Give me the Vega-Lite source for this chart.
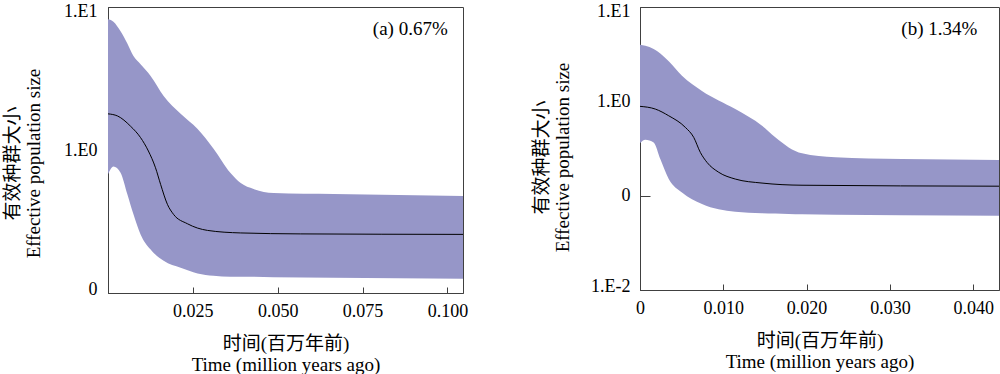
{
  "$schema": "https://vega.github.io/schema/vega-lite/v6.json",
  "padding": {"left": 3, "top": 1, "right": 0, "bottom": 0},
  "spacing": 63,
  "config": {
    "font": "Liberation Serif, Noto Sans CJK SC",
    "view": {"stroke": "#404040", "strokeWidth": 1},
    "axis": {
      "labelFont": "Liberation Serif, Noto Sans CJK SC",
      "titleFont": "Liberation Serif, Noto Sans CJK SC",
      "labelFontSize": 18,
      "titleFontSize": 19,
      "titleFontWeight": "normal",
      "labelColor": "#000000",
      "titleColor": "#000000",
      "domainColor": "#404040",
      "tickColor": "#404040",
      "grid": false,
      "labelFlush": false,
      "labelOverlap": false,
      "labelBound": false,
      "titleLineHeight": 21
    }
  },
  "datasets": {
    "bandA": [
      {"t": 0, "upper": 8.20, "lower": 0.676},
      {"t": 0.0016, "upper": 7.89, "lower": 0.767},
      {"t": 0.0037, "upper": 6.76, "lower": 0.693},
      {"t": 0.0057, "upper": 5.56, "lower": 0.490},
      {"t": 0.0075, "upper": 4.54, "lower": 0.355},
      {"t": 0.0096, "upper": 3.98, "lower": 0.257},
      {"t": 0.0125, "upper": 3.31, "lower": 0.202},
      {"t": 0.0164, "upper": 2.39, "lower": 0.168},
      {"t": 0.0214, "upper": 1.79, "lower": 0.150},
      {"t": 0.0264, "upper": 1.40, "lower": 0.137},
      {"t": 0.0311, "upper": 1.02, "lower": 0.132},
      {"t": 0.0361, "upper": 0.690, "lower": 0.130},
      {"t": 0.0391, "upper": 0.587, "lower": 0.130},
      {"t": 0.0429, "upper": 0.533, "lower": 0.130},
      {"t": 0.0488, "upper": 0.500, "lower": 0.129},
      {"t": 0.0665, "upper": 0.492, "lower": 0.128},
      {"t": 0.1046, "upper": 0.476, "lower": 0.126}
    ],
    "medA": [
      {"t": 0, "n": 1.79},
      {"t": 0.0028, "n": 1.73},
      {"t": 0.0066, "n": 1.47},
      {"t": 0.0096, "n": 1.22},
      {"t": 0.0119, "n": 0.984},
      {"t": 0.014, "n": 0.751},
      {"t": 0.0155, "n": 0.575},
      {"t": 0.0175, "n": 0.417},
      {"t": 0.0193, "n": 0.355},
      {"t": 0.0234, "n": 0.305},
      {"t": 0.0293, "n": 0.274},
      {"t": 0.0391, "n": 0.263},
      {"t": 0.0568, "n": 0.259},
      {"t": 0.1046, "n": 0.257}
    ],
    "labA": [{"t": 0.1001, "n": 7.0, "label": "(a) 0.67%"}],
    "bandB": [
      {"t": 0, "upper": 3.98, "lower": 0.361},
      {"t": 0.00064, "upper": 3.89, "lower": 0.392},
      {"t": 0.00164, "upper": 3.59, "lower": 0.367},
      {"t": 0.00244, "upper": 3.21, "lower": 0.244},
      {"t": 0.00345, "upper": 2.66, "lower": 0.150},
      {"t": 0.00504, "upper": 1.87, "lower": 0.108},
      {"t": 0.00744, "upper": 1.29, "lower": 0.0815},
      {"t": 0.01144, "upper": 0.828, "lower": 0.0675},
      {"t": 0.01465, "upper": 0.551, "lower": 0.0653},
      {"t": 0.01624, "upper": 0.415, "lower": 0.0646},
      {"t": 0.01785, "upper": 0.325, "lower": 0.0638},
      {"t": 0.01945, "upper": 0.281, "lower": 0.0634},
      {"t": 0.02345, "upper": 0.255, "lower": 0.0627},
      {"t": 0.03145, "upper": 0.244, "lower": 0.0619},
      {"t": 0.0431, "upper": 0.239, "lower": 0.0612}
    ],
    "medB": [
      {"t": 0, "n": 0.885},
      {"t": 0.00184, "n": 0.828},
      {"t": 0.00345, "n": 0.703},
      {"t": 0.00544, "n": 0.530},
      {"t": 0.00645, "n": 0.415},
      {"t": 0.00724, "n": 0.288},
      {"t": 0.00805, "n": 0.225},
      {"t": 0.00945, "n": 0.177},
      {"t": 0.01144, "n": 0.150},
      {"t": 0.01465, "n": 0.136},
      {"t": 0.01945, "n": 0.129},
      {"t": 0.0431, "n": 0.126}
    ],
    "labB": [{"t": 0.0405, "n": 5.85, "label": "(b) 1.34%"}]
  },
  "hconcat": [
    {
      "width": 355,
      "height": 286,
      "layer": [
        {
          "data": {"name": "bandA"},
          "mark": {"type": "area", "color": "#9696c8", "opacity": 1, "interpolate": "monotone"},
          "encoding": {
            "x": {
              "field": "t", "type": "quantitative",
              "scale": {"domain": [0, 0.1046], "nice": false, "zero": false},
              "axis": {
                "values": [0.025, 0.05, 0.075, 0.1],
                "format": ".3f",
                "tickSize": -6,
                "labelPadding": 15,
                "titlePadding": 14,
                "title": ["时间(百万年前)", "Time (million years ago)"]
              }
            },
            "y": {
              "field": "upper", "type": "quantitative",
              "scale": {"type": "log", "domain": [0.1, 10], "nice": false},
              "axis": {
                "values": [0.1, 1, 10],
                "labelExpr": "datum.value > 5 ? '1.E1' : datum.value > 0.5 ? '1.E0' : datum.value > 0.05 ? '0' : '1.E-2'",
                "labelFlush": true,
                "labelFlushOffset": 5,
                "tickSize": -10,
                "labelPadding": 21,
                "titlePadding": 20,
                "titleY": 156,
                "title": ["有效种群大小", "Effective population size"]
              }
            },
            "y2": {"field": "lower"}
          }
        },
        {
          "data": {"name": "medA"},
          "mark": {"type": "line", "color": "#000000", "strokeWidth": 1, "interpolate": "monotone"},
          "encoding": {
            "x": {"field": "t", "type": "quantitative"},
            "y": {"field": "n", "type": "quantitative"}
          }
        },
        {
          "data": {"name": "labA"},
          "mark": {"type": "text", "align": "right", "baseline": "middle", "fontSize": 19, "color": "#000000"},
          "encoding": {
            "x": {"field": "t", "type": "quantitative"},
            "y": {"field": "n", "type": "quantitative"},
            "text": {"field": "label"}
          }
        }
      ]
    },
    {
      "width": 359,
      "height": 283,
      "layer": [
        {
          "data": {"name": "bandB"},
          "mark": {"type": "area", "color": "#9696c8", "opacity": 1, "interpolate": "monotone"},
          "encoding": {
            "x": {
              "field": "t", "type": "quantitative",
              "scale": {"domain": [0, 0.0431], "nice": false, "zero": false},
              "axis": {
                "values": [0, 0.01, 0.02, 0.03, 0.04],
                "labelExpr": "datum.value == 0 ? '0' : format(datum.value, '.3f')",
                "tickSize": -6,
                "labelPadding": 15,
                "titlePadding": 14,
                "title": ["时间(百万年前)", "Time (million years ago)"]
              }
            },
            "y": {
              "field": "upper", "type": "quantitative",
              "scale": {"type": "log", "domain": [0.01, 10], "nice": false},
              "axis": {
                "values": [0.01, 0.1, 1, 10],
                "labelExpr": "datum.value > 5 ? '1.E1' : datum.value > 0.5 ? '1.E0' : datum.value > 0.05 ? '0' : '1.E-2'",
                "labelFlush": true,
                "labelFlushOffset": 5,
                "tickSize": -10,
                "labelPadding": 20,
                "titlePadding": 18,
                "titleY": 150,
                "title": ["有效种群大小", "Effective population size"]
              }
            },
            "y2": {"field": "lower"}
          }
        },
        {
          "data": {"name": "medB"},
          "mark": {"type": "line", "color": "#000000", "strokeWidth": 1, "interpolate": "monotone"},
          "encoding": {
            "x": {"field": "t", "type": "quantitative"},
            "y": {"field": "n", "type": "quantitative"}
          }
        },
        {
          "data": {"name": "labB"},
          "mark": {"type": "text", "align": "right", "baseline": "middle", "fontSize": 19, "color": "#000000"},
          "encoding": {
            "x": {"field": "t", "type": "quantitative"},
            "y": {"field": "n", "type": "quantitative"},
            "text": {"field": "label"}
          }
        }
      ]
    }
  ]
}
